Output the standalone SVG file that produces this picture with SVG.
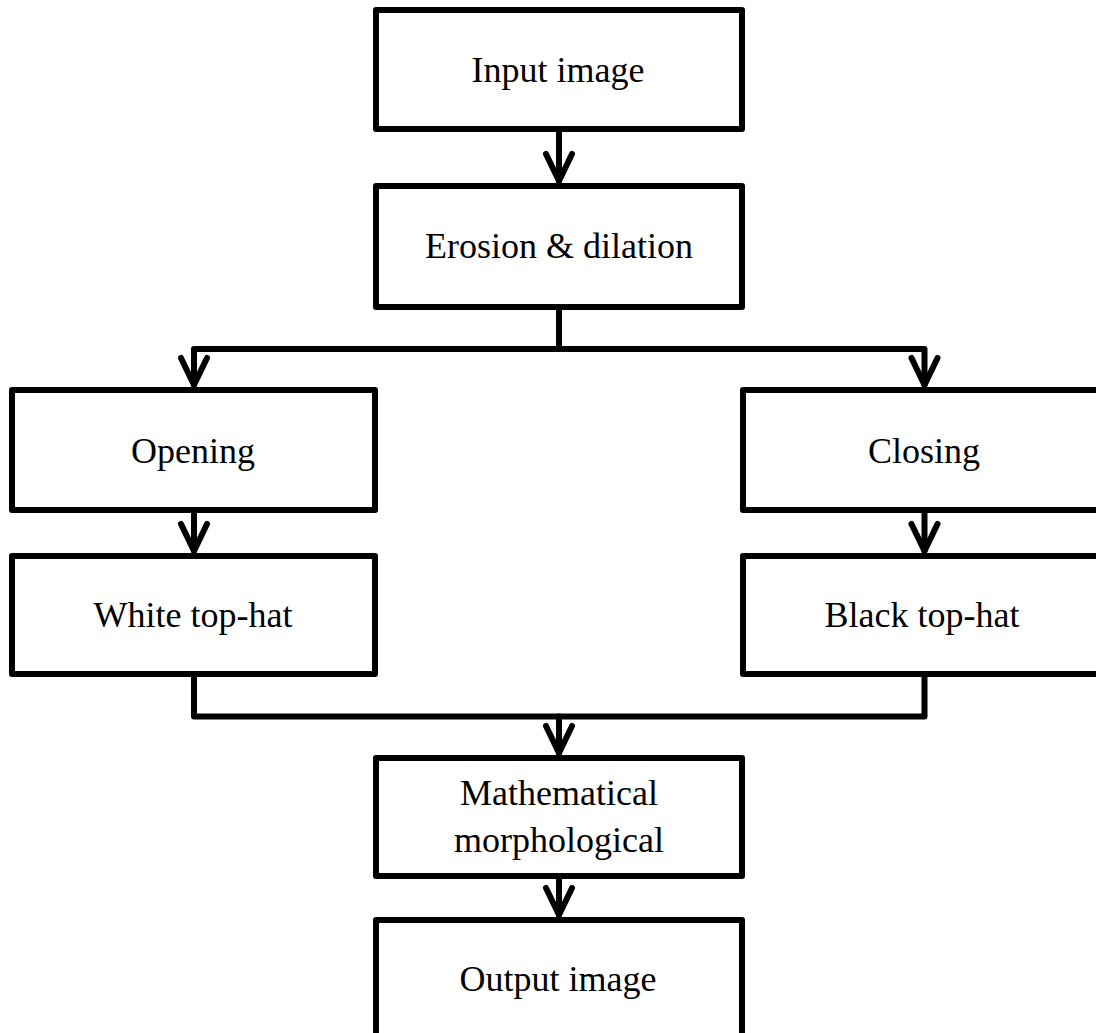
<svg xmlns="http://www.w3.org/2000/svg" width="1096" height="1033" viewBox="0 0 1096 1033">
<style>
.box{fill:#fff;stroke:#000;stroke-width:6;stroke-linejoin:round}
.lbl{font-family:"Liberation Serif","Times New Roman",serif;font-size:36px;fill:#000;text-anchor:middle}
.con{fill:none;stroke:#000;stroke-width:6;stroke-linejoin:round;stroke-linecap:round}
</style>
<defs>
<path id="ah" d="M-13,-27 L0,0 L13,-27" class="con"/>
</defs>
<rect width="1096" height="1033" fill="#fff"/>
<g id="connectors">
<path class="con" d="M559,132 V181"/>
<use href="#ah" x="559" y="181"/>
<path class="con" d="M559,308 V349 H194 V385"/>
<path class="con" d="M559,349 H924.5 V385"/>
<use href="#ah" x="194" y="385"/>
<use href="#ah" x="924.5" y="385"/>
<path class="con" d="M194,513 V551"/>
<use href="#ah" x="194" y="551"/>
<path class="con" d="M924.5,513 V551"/>
<use href="#ah" x="924.5" y="551"/>
<path class="con" d="M194,677 V716.5 H924.5 V677"/>
<path class="con" d="M559,716.5 V753"/>
<use href="#ah" x="559" y="753"/>
<path class="con" d="M559,879 V915"/>
<use href="#ah" x="559" y="915"/>
</g>
<g id="input"><rect class="box" x="376" y="10" width="366" height="119"/><text class="lbl" x="558" y="82">Input image</text></g>
<g id="erosion"><rect class="box" x="376" y="186" width="366" height="121"/><text class="lbl" x="559" y="258">Erosion &amp; dilation</text></g>
<g id="opening"><rect class="box" x="12" y="390" width="363" height="120"/><text class="lbl" x="193" y="463">Opening</text></g>
<g id="closing"><rect class="box" x="743" y="390" width="400" height="120"/><text class="lbl" x="924" y="463">Closing</text></g>
<g id="whitetophat"><rect class="box" x="12" y="556" width="363" height="118"/><text class="lbl" x="193" y="627">White top-hat</text></g>
<g id="blacktophat"><rect class="box" x="743" y="556" width="400" height="118"/><text class="lbl" x="922" y="627">Black top-hat</text></g>
<g id="math"><rect class="box" x="376" y="758" width="366" height="118"/><text class="lbl" x="559" y="805">Mathematical</text><text class="lbl" x="559" y="852">morphological</text></g>
<g id="output"><rect class="box" x="376" y="920" width="366" height="150"/><text class="lbl" x="558" y="991">Output image</text></g>
</svg>
